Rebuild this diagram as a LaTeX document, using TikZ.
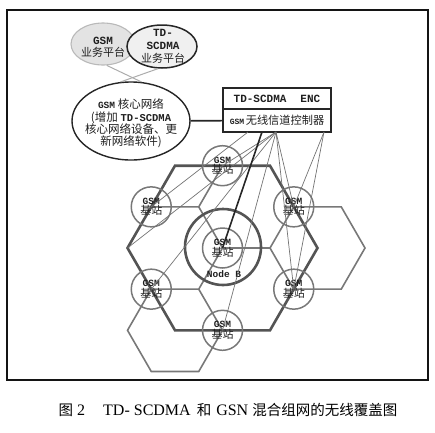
\documentclass[tikz,border=0pt]{standalone}
\usepackage{fontspec}
\setmainfont{Liberation Serif}
\newfontfamily\cjk{Noto Sans CJK SC}
\newfontfamily\monof{Liberation Mono}
\usetikzlibrary{shapes.geometric,calc}
\definecolor{framec}{gray}{0.08}
\definecolor{hexdark}{gray}{0.33}
\definecolor{hexlight}{gray}{0.47}
\definecolor{stc}{gray}{0.47}
\definecolor{fanc}{gray}{0.45}
\definecolor{gsmfill}{gray}{0.89}
\definecolor{tdfill}{gray}{0.94}
\definecolor{txtc}{gray}{0.12}
\newcommand{\gsmbz}{{\monof\bfseries\fontsize{9.5}{12}\selectfont GSM}\\[-1.5pt]{\cjk\fontsize{11}{12}\selectfont 基站}}
\tikzset{
  frame/.style={draw=framec, line width=1.6pt},
  bighex/.style={draw=hexdark, line width=2.6pt, line join=miter},
  smallhex/.style={draw=hexlight, line width=1.6pt},
  station/.style={circle, draw=stc, line width=1.5pt, minimum size=40pt, inner sep=0pt, align=center, text=txtc},
  nodeb/.style={circle, draw=hexdark, line width=2.6pt, minimum size=76pt, inner sep=0pt},
  fan/.style={draw=fanc, line width=0.7pt},
  thickconn/.style={draw=black!85, line width=1.6pt},
  boxpart/.style={draw=black!85, line width=1.4pt, fill=white, minimum width=108pt, inner sep=0pt, text=txtc},
  coreell/.style={ellipse, draw=black!85, line width=1.4pt, fill=white, minimum width=118pt, minimum height=78pt, inner sep=0pt},
  gsmell/.style={ellipse, draw=gray!55, line width=1.1pt, fill=gsmfill, minimum width=64pt, minimum height=42pt, inner sep=0pt},
  tdell/.style={ellipse, draw=black!85, line width=1.5pt, fill=tdfill, minimum width=70pt, minimum height=43pt, inner sep=0pt},
  plain/.style={align=center, text=txtc, inner sep=0pt},
  platline/.style={draw=gray!65, line width=1pt}
}
\begin{document}
\begin{tikzpicture}[x=1pt,y=-1pt]
\useasboundingbox (0,0) rectangle (435,432);
\draw[frame] (7,10) rectangle (428,380);

% big hexagon vertices
\coordinate (h1) at (317.5,248);
\coordinate (h2) at (270,165.7);
\coordinate (h3) at (175,165.7);
\coordinate (h4) at (127.5,248);
\coordinate (h5) at (175,330.3);
\coordinate (h6) at (270,330.3);
% station centres
\coordinate (pT) at (222.5,165.7);
\coordinate (pUL) at (151.25,206.85);
\coordinate (pLL) at (151.25,289.15);
\coordinate (pB) at (222.5,330.3);
\coordinate (pLR) at (293.75,289.15);
\coordinate (pUR) at (293.75,206.85);
\coordinate (pC) at (222.5,248);
% small honeycomb vertices
\coordinate (v1) at (198.75,206.85);
\coordinate (v2) at (198.75,289.15);
\coordinate (v3) at (270,248);
\coordinate (r1) at (341.25,206.85);
\coordinate (r2) at (365,248);
\coordinate (r3) at (341.25,289.15);
\coordinate (l1) at (127.5,330.3);
\coordinate (l2) at (151.25,371.45);
\coordinate (l3) at (198.75,371.45);

% small hexagon lines
\draw[smallhex] (pUL) -- (v1) -- (pT);
\draw[smallhex] (v1) -- (pC) -- (v2) -- (pLL);
\draw[smallhex] (v2) -- (pB);
\draw[smallhex] (pC) -- (v3) -- (pUR) -- (r1) -- (r2) -- (r3) -- (pLR) -- (v3);
\draw[smallhex] (pLL) -- (l1) -- (l2) -- (l3) -- (pB);

% big hexagon
\draw[bighex] (h1) -- (h2) -- (h3) -- (h4) -- (h5) -- (h6) -- cycle;

% Node B circle
\node[nodeb] (nodeb) at (223,247) {};
\node[plain, font=\monof\bfseries\fontsize{9.5}{11}\selectfont] (nblbl) at (224,274) {Node B};

% stations
\node[station] (sT) at (pT) {\gsmbz};
\node[station] (sUL) at (pUL) {\gsmbz};
\node[station] (sLL) at (pLL) {\gsmbz};
\node[station] (sB) at (pB) {\gsmbz};
\node[station] (sLR) at (pLR) {\gsmbz};
\node[station] (sUR) at (pUR) {\gsmbz};
\node[station] (sC) at (pC) {\gsmbz};

% platforms
\node[gsmell] (gsmp) at (103,44) {};
\node[tdell] (tdp) at (162,46.5) {};
\node[plain, font=\fontsize{11}{11.5}\selectfont] (gsmtxt) at (103,47.5)
  {{\monof\bfseries GSM}\\{\cjk 业务平台}};
\node[plain, font=\fontsize{11}{13}\selectfont] (tdtxt) at (163,46)
  {{\monof\bfseries TD-}\\{\monof\bfseries SCDMA}\\{\cjk 业务平台}};

% core network
\node[coreell] (core) at (131,121) {};
\node[plain, font=\fontsize{11.5}{12.4}\selectfont] (coretxt) at (131,123.5)
  {{\monof\bfseries\fontsize{9.5}{12.4}\selectfont GSM} {\cjk 核心网络}\\
   {\cjk (增加} {\monof\bfseries\fontsize{10.5}{12.4}\selectfont TD-SCDMA}\\
   {\cjk 核心网络设备、更}\\
   {\cjk 新网络软件)}};
\draw[platline] (gsmp.-80) -- (core.75);
\draw[platline] (tdp.-100) -- (core.105);

% controller box
\node[boxpart, minimum height=21pt] (enc) at (277,98.5)
  {{\monof\bfseries\fontsize{11}{12}\selectfont TD-SCDMA\hspace{14pt}ENC}};
\node[boxpart, minimum height=23pt] (ctrl) at (277,120.5)
  {{\monof\bfseries\fontsize{8}{10}\selectfont GSM}\,{\cjk\fontsize{11.2}{12}\selectfont 无线信道控制器}};
\draw[thickconn] (core) -- (ctrl);

% fan of links from the controller
\coordinate (fa) at (248,132);
\coordinate (fb) at (262,132);
\coordinate (ff) at (276,132);
\coordinate (fr) at (324,132);
\draw[fan] (fa) -- (pUL);
\draw[fan] (ff) -- (h4);
\draw[fan] (ff) -- (pLL);
\draw[fan] (ff) -- (pB);
\draw[fan] (ff) -- (pUR);
\draw[fan] (ff) -- (pLR);
\draw[fan] (ff) -- (pT);
\draw[fan] (fr) -- (pUR);
\draw[fan] (fr) -- (pLR);
\draw[thickconn] (fb) -- (pC);

% caption
\node[plain, font=\fontsize{16}{18}\selectfont, text=black] (cap) at (228,410)
  {{\cjk\fontsize{14.5}{18}\selectfont 图} 2\hspace{18pt}TD- SCDMA\hspace{6pt}{\cjk\fontsize{14.5}{18}\selectfont 和}\hspace{5pt}GSN\hspace{4pt}{\cjk\fontsize{14.5}{18}\selectfont 混合组网的无线覆盖图}};
\end{tikzpicture}
\end{document}
